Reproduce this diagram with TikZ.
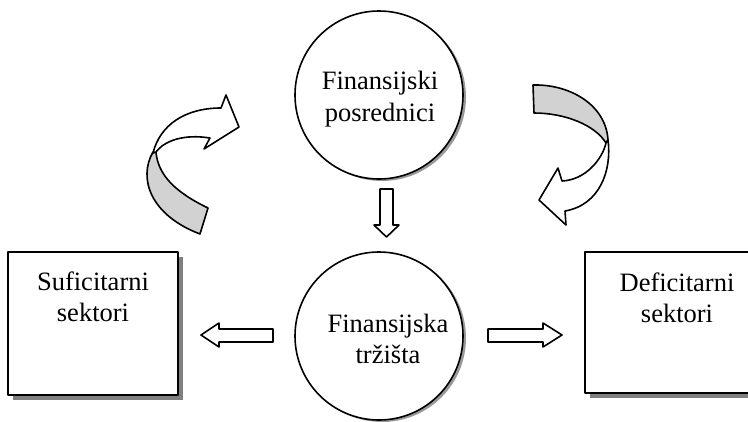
\documentclass[tikz,border=0pt]{standalone}
\usepackage{fontspec}
\setmainfont{Liberation Serif}
\usetikzlibrary{shadows}
\begin{document}
\begin{tikzpicture}[x=1pt,y=-1pt,
  lbl/.style={font=\fontsize{26.5}{31.5}\selectfont, align=center, inner sep=0pt},
  outl/.style={draw=black, line width=1.6pt, line join=round},
  circ/.style={circle, outl, fill=white, minimum size=168pt, inner sep=0pt,
    drop shadow={shadow xshift=3pt, shadow yshift=-2pt, fill=gray, opacity=0.8}},
  boxnode/.style={rectangle, outl, fill=white, inner sep=0pt,
    drop shadow={shadow xshift=5pt, shadow yshift=-5pt, fill=gray, opacity=1}},
  blockarrow/.style={outl, fill=white},
  twistback/.style={outl, fill=gray!35},
]
\useasboundingbox (0,0) rectangle (748,421);
\clip (0,0) rectangle (748,421);

% circles
\node[circ] (fp) at (379,95) {};
\node[circ] (ft) at (379,336) {};
\node[lbl] (fptext) at (380,99) {Finansijski\\posrednici};
\node[lbl] (fttext) at (388,339) {Finansijska\\tržišta};

% boxes
\node[boxnode, minimum width=170pt, minimum height=143pt] (ss) at (93,323.5) {};
\node[boxnode, minimum width=185pt, minimum height=141pt] (ds) at (677.5,322.5) {};
\node[lbl] (sstext) at (93,297) {Suficitarni\\sektori};
\node[lbl] (dstext) at (677,298) {Deficitarni\\sektori};

% straight block arrows
\draw[blockarrow] (380,189) -- (393,189) -- (393,225) -- (399,225) -- (386.5,237)
  -- (374,225) -- (380,225) -- cycle;
\draw[blockarrow] (273,329) -- (219,329) -- (219,323) -- (201,335) -- (219,347)
  -- (219,342) -- (273,342) -- cycle;
\draw[blockarrow] (488,329) -- (543,329) -- (543,323) -- (562,335) -- (543,347)
  -- (543,342) -- (488,342) -- cycle;

% left curved arrow
\draw[twistback] (153,152) .. controls (138,178) and (150,215) .. (200,234)
  -- (208,208) .. controls (175,192) and (158,175) .. (156,152) -- cycle;
\draw[blockarrow] (153,153) .. controls (160,125) and (185,108) .. (221,108)
  -- (226,95) -- (239,127) -- (204,149) -- (210,138)
  .. controls (185,134) and (165,140) .. (156,152) -- cycle;

% right curved arrow
\draw[twistback] (533,85) .. controls (570,84) and (606,105) .. (608,140)
  -- (606,143) .. controls (595,125) and (565,113) .. (534,113) -- cycle;
\draw[blockarrow] (608,140) .. controls (612,170) and (600,205) .. (565,211)
  -- (566,225) -- (539,200) -- (558,168) -- (562,181)
  .. controls (585,180) and (602,160) .. (606,143) -- cycle;
\end{tikzpicture}
\end{document}
